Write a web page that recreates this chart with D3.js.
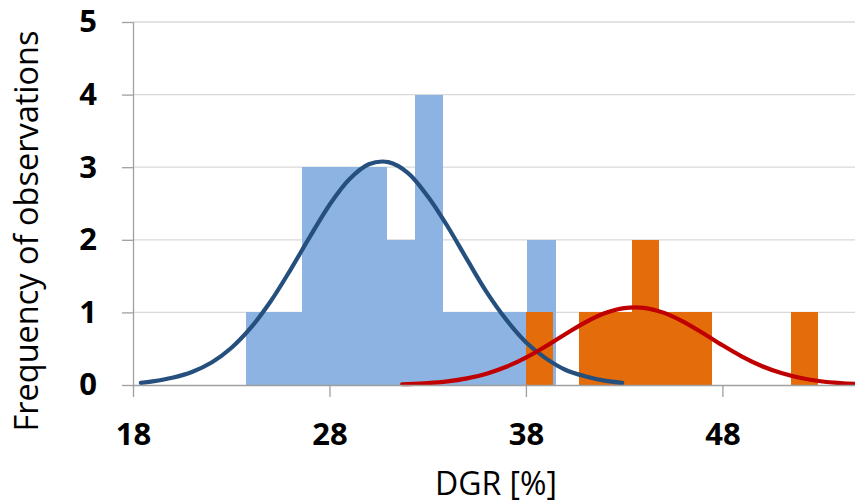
<!DOCTYPE html>
<html>
<head>
<meta charset="utf-8">
<script src="https://cdn.jsdelivr.net/npm/d3@7/dist/d3.min.js"></script>
<style>
  body { margin: 0; background: #fff; }
  svg { display: block; }
  .tick text { font-family: "Open Sans", sans-serif; font-weight: bold; fill: #000; }
</style>
</head>
<body>
<svg width="855" height="504"></svg>
<script>
// histogram bins (left edges, one extra for the last right edge) and counts
const blueEdges = [23.75, 25.18, 26.61, 28.04, 29.47, 30.90, 32.33, 33.76, 35.19, 36.62, 38.05, 39.48];
const blueCounts = [1, 1, 3, 3, 3, 2, 4, 1, 1, 1, 2];
const orangeEdges = [37.98, 39.33, 40.68, 42.03, 43.38, 44.73, 46.08, 47.43, 48.78, 50.13, 51.48, 52.83];
const orangeCounts = [1, 0, 1, 1, 2, 1, 1, 0, 0, 0, 1];

// fitted curves
const blueCurveX = [18.4, 19, 20, 21, 22, 23, 24, 25, 26, 27, 28, 29, 30, 31, 32, 33, 34, 35, 36, 37, 38, 39, 40, 41, 42, 42.9];
const blueCurveY = [0.03, 0.05, 0.10, 0.18, 0.31, 0.51, 0.79, 1.15, 1.58, 2.04, 2.48, 2.83, 3.04, 3.07, 2.92, 2.60, 2.19, 1.73, 1.28, 0.90, 0.59, 0.37, 0.21, 0.12, 0.06, 0.03];
const redCurveX = [31.7, 32, 33, 34, 35, 36, 37, 38, 39, 40, 41, 42, 43, 44, 45, 46, 47, 48, 49, 50, 51, 52, 53, 54, 55];
const redCurveY = [0.01, 0.012, 0.025, 0.049, 0.091, 0.156, 0.251, 0.378, 0.532, 0.699, 0.859, 0.987, 1.059, 1.063, 0.997, 0.874, 0.716, 0.548, 0.392, 0.262, 0.164, 0.096, 0.052, 0.027, 0.013];

const xTicks = [18, 28, 38, 48];
const yTicks = [0, 1, 2, 3, 4, 5];

const svg = d3.select("svg");
const plotLeft = 133, plotRight = 855, plotTop = 22, plotBottom = 385;

const x = d3.scaleLinear().domain([18, 54.75]).range([plotLeft, plotRight]);
const y = d3.scaleLinear().domain([0, 5]).range([plotBottom, plotTop]);

svg.append("clipPath").attr("id", "plot")
  .append("rect").attr("x", plotLeft).attr("y", 0).attr("width", plotRight - plotLeft).attr("height", plotBottom + 2);

// gridlines
svg.append("g")
  .selectAll("line")
  .data(yTicks.slice(1))
  .enter().append("line")
  .attr("x1", plotLeft).attr("x2", plotRight)
  .attr("y1", d => y(d)).attr("y2", d => y(d))
  .attr("stroke", "#d9d9d9").attr("stroke-width", 1.3);

const plot = svg.append("g").attr("clip-path", "url(#plot)");

function bars(edges, counts, color) {
  plot.append("g")
    .attr("shape-rendering", "crispEdges")
    .selectAll("rect")
    .data(counts.map((c, i) => ({ x0: edges[i], x1: edges[i + 1], c })).filter(d => d.c > 0))
    .enter().append("rect")
    .attr("x", d => x(d.x0))
    .attr("width", d => x(d.x1) - x(d.x0) + 0.6)
    .attr("y", d => y(d.c))
    .attr("height", d => y(0) - y(d.c))
    .attr("fill", color);
}
bars(blueEdges, blueCounts, "#8db3e2");
bars(orangeEdges, orangeCounts, "#e46c0a");

// x axis
const xAxis = svg.append("g")
  .attr("transform", `translate(0,${plotBottom})`)
  .call(d3.axisBottom(x).tickValues(xTicks).tickSize(12).tickPadding(26).tickSizeOuter(0));
xAxis.select(".domain").attr("stroke", "#a0a0a0").attr("stroke-width", 1.3)
  .attr("d", `M${plotLeft},0.5H${plotRight}`);
xAxis.selectAll(".tick line").attr("stroke", "#a0a0a0").attr("stroke-width", 1.3);
xAxis.selectAll(".tick text").attr("font-size", 31);

// y axis
const yAxis = svg.append("g")
  .attr("transform", `translate(${plotLeft},0)`)
  .call(d3.axisLeft(y).tickValues(yTicks).tickFormat(d3.format("d")).tickSize(11).tickPadding(25).tickSizeOuter(0));
yAxis.select(".domain").attr("stroke", "#a0a0a0").attr("stroke-width", 1.3);
yAxis.selectAll(".tick line").attr("stroke", "#a0a0a0").attr("stroke-width", 1.3);
yAxis.selectAll(".tick text").attr("font-size", 31);

// curves
const line = d3.line().x(d => x(d[0])).y(d => y(d[1])).curve(d3.curveCatmullRom);
plot.append("path")
  .datum(blueCurveX.map((v, i) => [v, blueCurveY[i]]))
  .attr("d", line)
  .attr("fill", "none").attr("stroke", "#254f7d").attr("stroke-width", 4.2).attr("stroke-linecap", "round");
plot.append("path")
  .datum(redCurveX.map((v, i) => [v, redCurveY[i]]))
  .attr("d", line)
  .attr("fill", "none").attr("stroke", "#c00000").attr("stroke-width", 4.2).attr("stroke-linecap", "round");

// axis titles
svg.append("text")
  .attr("transform", "translate(38,231) rotate(-90)")
  .attr("text-anchor", "middle")
  .attr("font-family", "'Open Sans', sans-serif")
  .attr("font-size", 32.5)
  .attr("font-weight", 500)
  .text("Frequency of observations");

svg.append("text")
  .attr("x", 496).attr("y", 495)
  .attr("text-anchor", "middle")
  .attr("font-family", "'Open Sans', sans-serif")
  .attr("font-size", 32)
  .attr("font-weight", 500)
  .text("DGR [%]");
</script>
</body>
</html>
